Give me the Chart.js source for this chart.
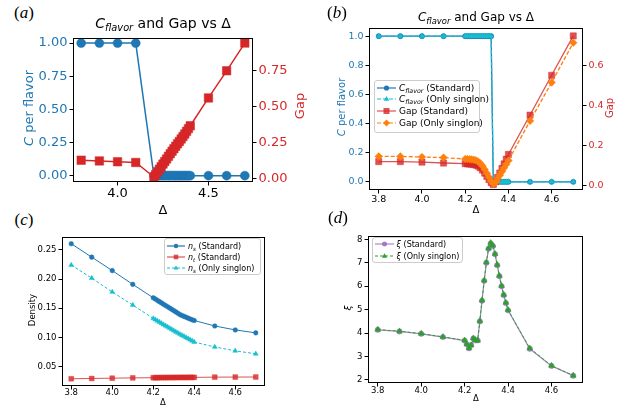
<!DOCTYPE html>
<html>
<head>
<meta charset="utf-8">
<script src="https://cdn.jsdelivr.net/npm/chart.js@4.4.1/dist/chart.umd.min.js"></script>
<style>
body { margin:0; width:641px; height:406px; overflow:hidden; background:#fff; position:relative; font-family:"DejaVu Sans", sans-serif; }
canvas { position:absolute; }
.lbl { position:absolute; white-space:nowrap; line-height:1; }
.mid { transform:translate(-50%,-50%); }
.rot { transform:translate(-50%,-50%) rotate(-90deg); }
.pan { font-family:"Liberation Serif", serif; font-size:17px; }
.leg { position:absolute; box-sizing:border-box; border:1px solid #ccc; border-radius:3px; background:rgba(255,255,255,0.8); }
.row { display:flex; align-items:center; white-space:nowrap; }
.row svg { margin-right:3px; flex:none; }
sub { font-size:70%; vertical-align:-0.3em; line-height:0; }
</style>
</head>
<body>
<canvas id="chartA"></canvas>
<canvas id="chartB"></canvas>
<canvas id="chartC"></canvas>
<canvas id="chartD"></canvas>

<div class="lbl mid pan" style="left:24px;top:12px">(<i>a</i>)</div>
<div class="lbl mid pan" style="left:337px;top:12px">(<i>b</i>)</div>
<div class="lbl mid pan" style="left:24px;top:219px">(<i>c</i>)</div>
<div class="lbl mid pan" style="left:338px;top:217px">(<i>d</i>)</div>

<div class="lbl mid" style="left:163px;top:23px;font-size:14px"><i>C</i><sub><i>flavor</i></sub> and Gap vs Δ</div>
<div class="lbl rot" style="left:28px;top:108px;font-size:13px;color:#1f77b4"><i>C</i> per flavor</div>
<div class="lbl rot" style="left:299px;top:106px;font-size:13px;color:#d62728">Gap</div>
<div class="lbl mid" style="left:163px;top:209px;font-size:13px">Δ</div>

<div class="lbl mid" style="left:476px;top:17px;font-size:12px"><i>C</i><sub><i>flavor</i></sub> and Gap vs Δ</div>
<div class="lbl rot" style="left:342px;top:107px;font-size:10px;color:#1f77b4"><i>C</i> per flavor</div>
<div class="lbl rot" style="left:610px;top:108px;font-size:10px;color:#d62728">Gap</div>
<div class="lbl mid" style="left:476px;top:210px;font-size:10px">Δ</div>

<div class="lbl rot" style="left:32px;top:310px;font-size:8.5px">Density</div>
<div class="lbl mid" style="left:163px;top:401.5px;font-size:8.5px">Δ</div>

<div class="lbl rot" style="left:348px;top:308px;font-size:9px"><i>ξ</i></div>
<div class="lbl mid" style="left:476px;top:398px;font-size:8.5px">Δ</div>

<script>
const deltas = [3.8, 3.9, 4.0, 4.1, 4.2, 4.21, 4.22, 4.23, 4.24, 4.25, 4.26, 4.27, 4.28, 4.29, 4.30,
  4.31, 4.32, 4.33, 4.34, 4.35, 4.36, 4.37, 4.38, 4.39, 4.40, 4.5, 4.6, 4.7];

// panel (a)
const cFlavorA = [1, 1, 1, 1, 0, 0, 0, 0, 0, 0, 0, 0, 0, 0, 0, 0, 0, 0, 0, 0, 0, 0, 0, 0, 0, 0, 0, 0];
const gapA = [0.127, 0.122, 0.116, 0.111, 0.010, 0.028, 0.046, 0.064, 0.082, 0.100, 0.118, 0.136, 0.154, 0.172,
  0.190, 0.207, 0.224, 0.241, 0.258, 0.275, 0.292, 0.310, 0.328, 0.347, 0.367, 0.561, 0.750, 0.943];

// panel (b)
const cStdB = [1, 1, 1, 1, 1, 1, 1, 1, 1, 1, 1, 1, 1, 1, 1, 1, 1, 0, 0, 0, 0, 0, 0, 0, 0, 0, 0, 0];
const cSingB = [1, 1, 1, 1, 1, 1, 1, 1, 1, 1, 1, 1, 1, 1, 1, 1, 1, 0, 0, 0, 0, 0, 0, 0, 0, 0, 0, 0];
const gapStdB = [0.119, 0.119, 0.116, 0.112, 0.109, 0.108, 0.107, 0.106, 0.104, 0.101, 0.096, 0.088, 0.076, 0.061,
  0.045, 0.029, 0.014, 0.004, 0.018, 0.040, 0.062, 0.085, 0.108, 0.131, 0.155, 0.352, 0.551, 0.748];
const gapSingB = [0.145, 0.145, 0.142, 0.139, 0.132, 0.132, 0.131, 0.130, 0.128, 0.125, 0.119, 0.110, 0.097, 0.080,
  0.061, 0.041, 0.022, 0.008, 0.014, 0.032, 0.051, 0.069, 0.088, 0.106, 0.124, 0.323, 0.515, 0.714];

// panel (c)
const nsStd = [0.2607, 0.2376, 0.2146, 0.1910, 0.1680, 0.1658, 0.1636, 0.1614, 0.1592, 0.1570, 0.1548, 0.1526,
  0.1504, 0.1482, 0.1460, 0.1438, 0.1416, 0.1392, 0.1376, 0.1361, 0.1346, 0.1331, 0.1316, 0.1302, 0.1290,
  0.1197, 0.1129, 0.1079];
const ntStd = [0.0292, 0.0297, 0.0302, 0.0307, 0.0310, 0.0310, 0.0311, 0.0311, 0.0312, 0.0312, 0.0312, 0.0313,
  0.0313, 0.0313, 0.0314, 0.0314, 0.0314, 0.0315, 0.0315, 0.0315, 0.0315, 0.0316, 0.0316, 0.0316, 0.0316,
  0.0320, 0.0321, 0.0322];
const nsSing = [0.2242, 0.2017, 0.1780, 0.1556, 0.1326, 0.1305, 0.1284, 0.1263, 0.1242, 0.1221, 0.1200, 0.1180,
  0.1159, 0.1138, 0.1118, 0.1097, 0.1077, 0.1056, 0.1037, 0.1018, 0.0999, 0.0980, 0.0961, 0.0941, 0.0921,
  0.0837, 0.0770, 0.0720];

// panel (d)
const xiStd = [4.14, 4.07, 3.97, 3.83, 3.68, 3.52, 3.35, 3.49, 3.77, 3.69, 3.69, 4.50, 5.38, 6.23, 7.00, 7.60,
  7.83, 7.72, 7.37, 6.90, 6.43, 6.00, 5.62, 5.28, 4.97, 3.33, 2.60, 2.18];
const xiSing = [4.15, 4.08, 3.98, 3.84, 3.69, 3.53, 3.36, 3.48, 3.78, 3.70, 3.68, 4.52, 5.40, 6.25, 7.02, 7.62,
  7.85, 7.74, 7.38, 6.92, 6.45, 6.02, 5.64, 5.30, 4.99, 3.35, 2.61, 2.19];

// tick labels
const xTicksA = [4.0, 4.5];
const xTicks = [3.8, 4.0, 4.2, 4.4, 4.6];
const cTicksA = [0, 0.25, 0.5, 0.75, 1.0];
const gapTicksA = [0, 0.25, 0.5, 0.75];
const cTicksB = [0, 0.2, 0.4, 0.6, 0.8, 1.0];
const gapTicksB = [0, 0.2, 0.4, 0.6];
const densTicks = [0.05, 0.10, 0.15, 0.20, 0.25];
const xiTicks = [2, 3, 4, 5, 6, 7, 8];

const blue = '#1f77b4', cyan = '#17becf', red = '#d62728', redA = 'rgba(214,39,40,0.8)';
const orange = '#ff7f0e', purple = 'rgba(148,103,189,0.8)', green = '#2ca02c';

const frame = {
  id: 'frame',
  afterDraw(chart) {
    const a = chart.chartArea, ctx = chart.ctx;
    ctx.save();
    ctx.strokeStyle = '#000';
    ctx.lineWidth = 1;
    ctx.strokeRect(Math.round(a.left) + 0.5, Math.round(a.top) + 0.5,
      Math.round(a.right - a.left) - 1, Math.round(a.bottom - a.top) - 1);
    ctx.restore();
  }
};

function place(id, L, T, R, B) {
  const c = document.getElementById(id);
  c.width = R - L + 90;
  c.height = B - T + 24;
  c.style.left = (L - 45) + 'px';
  c.style.top = (T - 4) + 'px';
  return c;
}

function pts(ys) {
  return deltas.map((x, i) => ({x: x, y: ys[i]}));
}

function axis(pos, min, max, ticks, digits, size, color, fit, pad) {
  return {
    type: 'linear', position: pos, min: min, max: max,
    afterBuildTicks: s => { s.ticks = ticks.map(v => ({value: v})); },
    afterFit: s => { if (pos === 'bottom') s.height = fit; else s.width = fit; },
    ticks: {
      callback: v => v.toFixed(digits), color: color, padding: pad,
      font: {family: 'DejaVu Sans', size: size}, autoSkip: false, maxRotation: 0
    },
    grid: {display: true, drawOnChartArea: false, drawTicks: true, tickLength: 3.5, color: '#000', lineWidth: 1},
    border: {display: false}
  };
}

function series(ys, color, shape, r, width, dash, axisId, order) {
  return {
    data: pts(ys), yAxisID: axisId, order: order,
    borderColor: color, backgroundColor: color, pointBackgroundColor: color, pointBorderColor: color,
    pointStyle: shape, pointRadius: r, pointBorderWidth: 0.5, borderWidth: width,
    borderDash: dash, tension: 0, fill: false
  };
}

function options(scales, padRight) {
  return {
    responsive: false, animation: false,
    layout: {padding: {top: 4, right: padRight, left: 0, bottom: 0}},
    plugins: {legend: {display: false}, tooltip: {enabled: false}},
    scales: scales
  };
}

new Chart(place('chartA', 73, 32, 253, 182), {
  type: 'line',
  data: {datasets: [
    series(cFlavorA, blue, 'circle', 4.5, 1.5, [], 'y', 2),
    series(gapA, red, 'rect', 6, 1.5, [], 'y1', 1)
  ]},
  options: options({
    x: axis('bottom', 3.755, 4.745, xTicksA, 1, 13, '#000', 20, 0),
    y: axis('left', -0.048, 1.04, cTicksA, 2, 13, blue, 45, 2),
    y1: axis('right', -0.025, 0.98, gapTicksA, 2, 13, red, 45, 2)
  }, 0),
  plugins: [frame]
});

new Chart(place('chartB', 369, 24, 583, 190), {
  type: 'line',
  data: {datasets: [
    series(cStdB, blue, 'circle', 2.6, 1.3, [], 'y', 4),
    series(cSingB, cyan, 'triangle', 3, 1.3, [4, 2], 'y', 3),
    series(gapStdB, redA, 'rect', 4.4, 1.3, [], 'y1', 2),
    series(gapSingB, orange, 'rectRot', 3.8, 1.3, [4, 2], 'y1', 1)
  ]},
  options: options({
    x: axis('bottom', 3.755, 4.745, xTicks, 1, 9.5, '#000', 20, 0),
    y: axis('left', -0.056, 1.058, cTicksB, 1, 9.5, blue, 45, 2),
    y1: axis('right', -0.023, 0.789, gapTicksB, 1, 9.5, red, 45, 2)
  }, 0),
  plugins: [frame]
});

new Chart(place('chartC', 62, 234, 265, 386), {
  type: 'line',
  data: {datasets: [
    series(nsStd, blue, 'circle', 2.3, 1, [], 'y', 3),
    series(ntStd, redA, 'rect', 3.4, 1, [], 'y', 2),
    series(nsSing, cyan, 'triangle', 2.8, 1, [3, 2], 'y', 1)
  ]},
  options: options({
    x: axis('bottom', 3.755, 4.745, xTicks, 1, 8.5, '#000', 20, -2),
    y: axis('left', 0.0168, 0.272, densTicks, 2, 8.5, '#000', 45, 2)
  }, 45),
  plugins: [frame]
});

new Chart(place('chartD', 368, 233, 583, 383), {
  type: 'line',
  data: {datasets: [
    series(xiStd, purple, 'circle', 2.7, 1.2, [], 'y', 2),
    series(xiSing, green, 'triangle', 3.3, 1, [3, 2], 'y', 1)
  ]},
  options: options({
    x: axis('bottom', 3.755, 4.745, xTicks, 1, 8.5, '#000', 20, -1),
    y: axis('left', 1.87, 8.14, xiTicks, 0, 8.5, '#000', 45, 2)
  }, 45),
  plugins: [frame]
});

// legends
function sample(color, dash, shape, r, w) {
  const m = w / 2;
  let mk = '';
  if (shape === 'circle') mk = '<circle cx="' + m + '" cy="5" r="' + r + '" fill="' + color + '"/>';
  if (shape === 'rect') mk = '<rect x="' + (m - r) + '" y="' + (5 - r) + '" width="' + 2 * r + '" height="' + 2 * r + '" fill="' + color + '"/>';
  if (shape === 'triangle') mk = '<polygon points="' + m + ',' + (5 - r) + ' ' + (m + r * 0.9) + ',' + (5 + r * 0.6) + ' ' + (m - r * 0.9) + ',' + (5 + r * 0.6) + '" fill="' + color + '"/>';
  if (shape === 'diamond') mk = '<polygon points="' + m + ',' + (5 - r) + ' ' + (m + r) + ',5 ' + m + ',' + (5 + r) + ' ' + (m - r) + ',5" fill="' + color + '"/>';
  return '<svg width="' + w + '" height="10"><line x1="0" y1="5" x2="' + w + '" y2="5" stroke="' + color +
    '" stroke-width="1.2"' + (dash ? ' stroke-dasharray="' + dash + '"' : '') + '/>' + mk + '</svg>';
}

function legend(x, y, w, h, rowH, padTop, padLeft, font, sw, rows) {
  const box = document.createElement('div');
  box.className = 'leg';
  box.style.cssText = 'left:' + x + 'px;top:' + y + 'px;width:' + w + 'px;height:' + h + 'px;padding:' + padTop + 'px 0 0 ' + padLeft + 'px;font-size:' + font + 'px';
  rows.forEach(r => {
    const d = document.createElement('div');
    d.className = 'row';
    d.style.height = rowH + 'px';
    d.innerHTML = sample(r[0], r[1], r[2], r[3], sw) + '<span>' + r[4] + '</span>';
    box.appendChild(d);
  });
  document.body.appendChild(box);
}

legend(374, 80, 106, 53, 11.6, 1, 2, 9, 19, [
  [blue, '', 'circle', 2.6, '<i>C</i><sub><i>flavor</i></sub> (Standard)'],
  [cyan, '4,2', 'triangle', 3, '<i>C</i><sub><i>flavor</i></sub> (Only singlon)'],
  [redA, '', 'rect', 3, 'Gap (Standard)'],
  [orange, '4,2', 'diamond', 3.4, 'Gap (Only singlon)']
]);

legend(164, 238, 97, 37, 11, 1.5, 2, 8, 18, [
  [blue, '', 'circle', 2.2, '<i>n</i><sub><i>s</i></sub> (Standard)'],
  [redA, '', 'rect', 2.3, '<i>n</i><sub><i>t</i></sub> (Standard)'],
  [cyan, '3,2', 'triangle', 2.6, '<i>n</i><sub><i>s</i></sub> (Only singlon)']
]);

legend(372, 237, 91, 26, 12, 0, 1.5, 8, 19, [
  [purple, '', 'circle', 2.5, '<i>ξ</i> (Standard)'],
  [green, '3,2', 'triangle', 2.8, '<i>ξ</i> (Only singlon)']
]);
</script>
</body>
</html>
